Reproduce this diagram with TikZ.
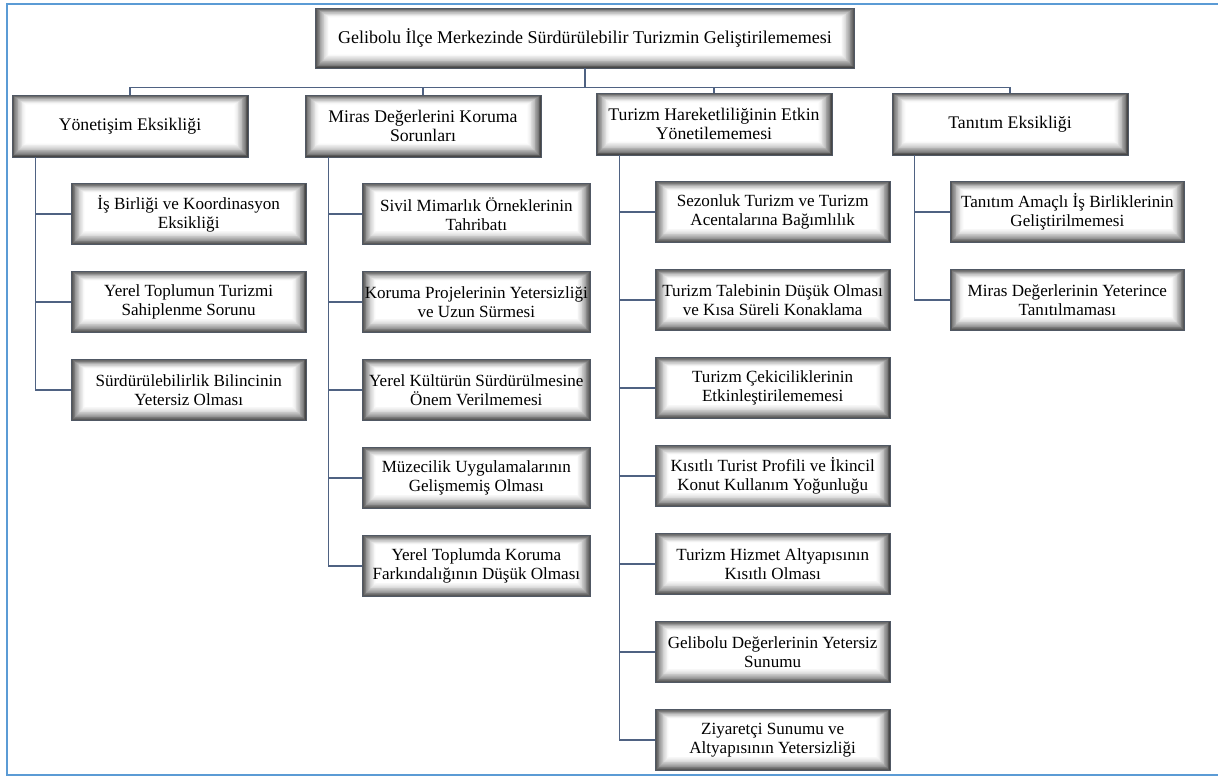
\documentclass[tikz,border=0pt]{standalone}
\usepackage{fontspec}
\setmainfont{Liberation Serif}
\definecolor{framebl}{RGB}{91,155,213}
\definecolor{linkc}{RGB}{79,98,130}
\definecolor{boxedge}{RGB}{80,88,100}

\begin{document}
\begin{tikzpicture}[x=0.75pt,y=-0.75pt,node distance=66pt,
    main node/.style={draw=boxedge,line width=0.6pt,align=center,inner sep=0pt,minimum height=46pt,font=\fontsize{13.3}{14}\selectfont,
        path picture={\foreach \k in {0,...,18}{
            \pgfmathtruncatemacro\c{72*(1-\k/18)^1.7}
            \fill[black!\c!white] ([shift={(\k*0.6pt,\k*0.62pt)}]path picture bounding box.south west) rectangle ([shift={(-\k*0.6pt,-\k*0.42pt)}]path picture bounding box.north east);}}},
    top node/.style={main node,minimum width=404pt,minimum height=45pt,font=\fontsize{13.5}{14}\selectfont},
    head node/.style={main node,minimum width=177pt,minimum height=46.5pt},
    sub node/.style={main node,minimum width=176pt,font=\fontsize{12.8}{14}\selectfont},
    link/.style={draw=linkc,line width=0.9pt}]
    \useasboundingbox (0,0) rectangle (1218,776);
    \draw[framebl,line width=1.5pt] (1218,4) -- (7,4) -- (7,775) -- (1218,775);

    \node[top node] (g) at (585,38) {Gelibolu İlçe Merkezinde Sürdürülebilir Turizmin Geliştirilememesi};

    \node[head node] (a) at (130,126) {Yönetişim Eksikliği};
    \node[head node] (b) at (423,126) {Miras Değerlerini Koruma\\Sorunları};
    \node[head node] (c) at (714,124) {Turizm Hareketliliğinin Etkin\\Yönetilememesi};
    \node[head node] (d) at (1010,124) {Tanıtım Eksikliği};

    \node[sub node] (a1) [below of=a, xshift=44pt] {İş Birliği ve Koordinasyon\\Eksikliği};
    \node[sub node] (a2) [below of=a1] {Yerel Toplumun Turizmi\\Sahiplenme Sorunu};
    \node[sub node] (a3) [below of=a2] {Sürdürülebilirlik Bilincinin\\Yetersiz Olması};

    \node[sub node, minimum width=171pt] (b1) [below of=b, xshift=40pt] {Sivil Mimarlık Örneklerinin\\Tahribatı};
    \node[sub node, minimum width=171pt] (b2) [below of=b1] {Koruma Projelerinin Yetersizliği\\ve Uzun Sürmesi};
    \node[sub node, minimum width=171pt] (b3) [below of=b2] {Yerel Kültürün Sürdürülmesine\\Önem Verilmemesi};
    \node[sub node, minimum width=171pt] (b4) [below of=b3] {Müzecilik Uygulamalarının\\Gelişmemiş Olması};
    \node[sub node, minimum width=171pt] (b5) [below of=b4] {Yerel Toplumda Koruma\\Farkındalığının Düşük Olması};

    \node[sub node] (c1) [below of=c, xshift=44pt] {Sezonluk Turizm ve Turizm\\Acentalarına Bağımlılık};
    \node[sub node] (c2) [below of=c1] {Turizm Talebinin Düşük Olması\\ve Kısa Süreli Konaklama};
    \node[sub node] (c3) [below of=c2] {Turizm Çekiciliklerinin\\Etkinleştirilememesi};
    \node[sub node] (c4) [below of=c3] {Kısıtlı Turist Profili ve İkincil\\Konut Kullanım Yoğunluğu};
    \node[sub node] (c5) [below of=c4] {Turizm Hizmet Altyapısının\\Kısıtlı Olması};
    \node[sub node] (c6) [below of=c5] {Gelibolu Değerlerinin Yetersiz\\Sunumu};
    \node[sub node] (c7) [below of=c6] {Ziyaretçi Sunumu ve\\Altyapısının Yetersizliği};

    \node[sub node] (d1) [below of=d, xshift=43pt] {Tanıtım Amaçlı İş Birliklerinin\\Geliştirilmemesi};
    \node[sub node] (d2) [below of=d1] {Miras Değerlerinin Yeterince\\Tanıtılmaması};

    % connectors
    \path (g.south) ++(0,19) coordinate (bus);
    \draw[link] (g.south) -- (bus);
    \foreach \n in {a,b,c,d}
        \draw[link] (bus) -| (\n.north);
    \foreach \n in {a1,a2,a3}
        \draw[link] ([xshift=18pt]a.south west) |- (\n.west);
    \foreach \n in {b1,b2,b3,b4,b5}
        \draw[link] ([xshift=18pt]b.south west) |- (\n.west);
    \foreach \n in {c1,c2,c3,c4,c5,c6,c7}
        \draw[link] ([xshift=18pt]c.south west) |- (\n.west);
    \foreach \n in {d1,d2}
        \draw[link] ([xshift=17pt]d.south west) |- (\n.west);
\end{tikzpicture}
\end{document}
